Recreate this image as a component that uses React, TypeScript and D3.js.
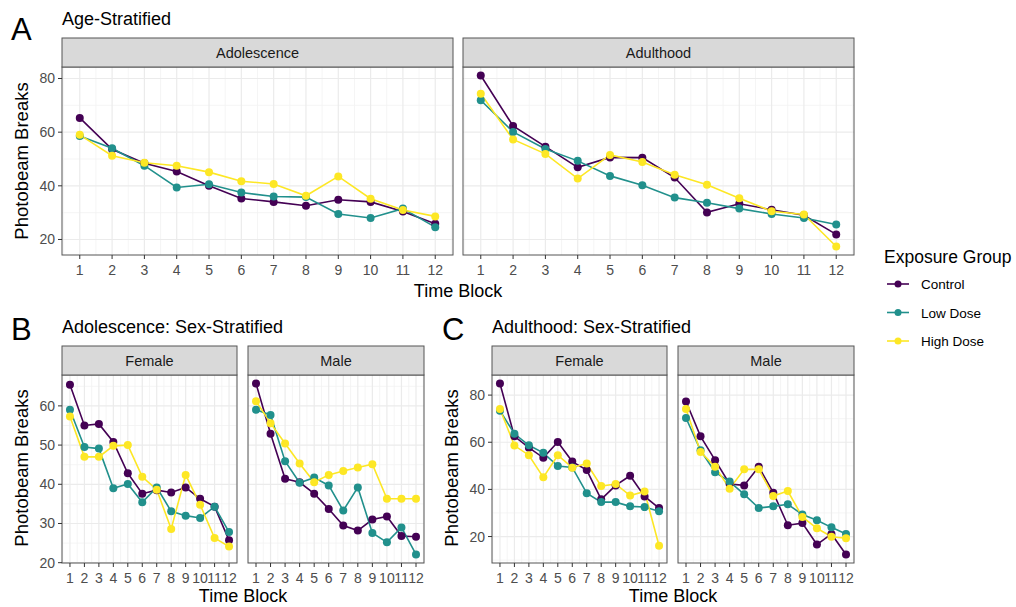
import React from 'react';
import * as d3 from 'd3';

const width = 1016;
const height = 607;
const font = '"Liberation Sans", Arial, sans-serif';

const groups = ['Control', 'Low Dose', 'High Dose'];
const colors = ['#440154', '#21908C', '#FDE725'];
const blocks = [1, 2, 3, 4, 5, 6, 7, 8, 9, 10, 11, 12];

// Panel A: age stratified
const adolControl = [65.3, 53.6, 48.4, 45.3, 40.0, 35.3, 34.0, 32.6, 34.8, 34.0, 30.4, 25.9];
const adolLow = [58.6, 54.0, 47.5, 39.4, 40.6, 37.5, 36.0, 35.8, 29.5, 28.0, 31.5, 24.6];
const adolHigh = [59.0, 51.2, 48.6, 47.5, 45.1, 41.7, 40.7, 36.3, 43.5, 35.2, 31.0, 28.6];
const adultControl = [81.1, 62.3, 54.6, 46.9, 50.6, 50.5, 43.1, 30.1, 33.3, 31.1, 29.0, 21.9];
const adultLow = [71.9, 60.1, 53.7, 49.3, 43.7, 40.2, 35.6, 33.7, 31.5, 29.5, 28.0, 25.6];
const adultHigh = [74.3, 57.3, 51.9, 42.7, 51.5, 48.9, 44.1, 40.4, 35.4, 30.5, 29.3, 17.4];

// Panel B: adolescence by sex
const adolFemControl = [65.4, 55.0, 55.4, 50.8, 42.8, 37.6, 38.5, 37.9, 39.2, 36.3, 34.3, 25.7];
const adolFemLow = [59.0, 49.5, 49.1, 39.0, 40.1, 35.4, 39.2, 33.1, 32.0, 31.4, 34.3, 27.8];
const adolFemHigh = [57.3, 47.0, 47.0, 49.8, 50.0, 41.9, 38.6, 28.6, 42.4, 34.8, 26.3, 24.1];
const adolMaleControl = [65.7, 52.9, 41.4, 40.5, 37.6, 33.7, 29.5, 28.2, 31.0, 31.8, 26.8, 26.6];
const adolMaleLow = [59.0, 57.7, 45.9, 40.4, 41.7, 39.7, 33.3, 39.2, 27.6, 25.2, 29.0, 22.1];
const adolMaleHigh = [61.2, 55.6, 50.4, 45.3, 40.5, 42.4, 43.4, 44.3, 45.1, 36.3, 36.3, 36.3];

// Panel C: adulthood by sex
const adultFemControl = [84.9, 62.5, 57.7, 53.4, 60.1, 51.8, 48.2, 35.8, 41.7, 45.8, 37.0, 32.1];
const adultFemLow = [73.4, 63.6, 58.7, 55.5, 49.9, 49.3, 38.4, 34.6, 34.6, 32.8, 32.5, 30.7];
const adultFemHigh = [74.1, 58.6, 54.5, 45.1, 54.5, 49.2, 51.0, 41.4, 42.3, 37.4, 39.1, 16.1];
const adultMaleControl = [77.3, 62.5, 52.4, 42.3, 41.7, 49.6, 38.6, 24.8, 25.7, 16.6, 21.1, 12.4];
const adultMaleLow = [70.3, 56.6, 47.3, 43.3, 37.9, 32.1, 32.8, 33.7, 29.3, 26.9, 23.9, 21.1];
const adultMaleHigh = [74.1, 55.9, 49.6, 40.3, 48.5, 48.5, 37.2, 39.3, 28.3, 23.5, 19.9, 19.3];

const ticksA = [20, 40, 60, 80];
const ticksB = [20, 30, 40, 50, 60];
const ticksC = [20, 40, 60, 80];

const expand = (all: number[]): [number, number] => {
  const [lo, hi] = d3.extent(all) as [number, number];
  const pad = (hi - lo) * 0.05;
  return [lo - pad, hi + pad];
};

const minorOf = (ticks: number[], dom: [number, number]) => {
  const step = ticks[1] - ticks[0];
  const out: number[] = [];
  for (let t = ticks[0] - step / 2; t <= ticks[ticks.length - 1] + step; t += step) {
    if (t >= dom[0] && t <= dom[1]) out.push(t);
  }
  return out;
};

type PanelProps = {
  x0: number; x1: number; top: number; bottom: number;
  label: string; series: number[][]; yDomain: [number, number];
  yTicks: number[]; showY: boolean;
};

const stripH = 29;

function Panel({ x0, x1, top, bottom, label, series, yDomain, yTicks, showY }: PanelProps) {
  const plotTop = top + stripH;
  const x = d3.scaleLinear().domain([0.45, 12.55]).range([x0, x1]);
  const y = d3.scaleLinear().domain(yDomain).range([bottom, plotTop]);
  const line = d3.line<number>().x((_, i) => x(blocks[i])).y(d => y(d));
  const xMinor = d3.range(0.5, 13, 1);
  const yMinor = minorOf(yTicks, yDomain);
  return (
    <g>
      <rect x={x0} y={plotTop} width={x1 - x0} height={bottom - plotTop} fill="#fff" />
      {xMinor.map(v => <line key={'xm' + v} x1={x(v)} x2={x(v)} y1={plotTop} y2={bottom} stroke="#F2F2F2" strokeWidth={0.8} />)}
      {yMinor.map(v => <line key={'ym' + v} x1={x0} x2={x1} y1={y(v)} y2={y(v)} stroke="#F2F2F2" strokeWidth={0.8} />)}
      {blocks.map(v => <line key={'xg' + v} x1={x(v)} x2={x(v)} y1={plotTop} y2={bottom} stroke="#EBEBEB" strokeWidth={1.2} />)}
      {yTicks.map(v => <line key={'yg' + v} x1={x0} x2={x1} y1={y(v)} y2={y(v)} stroke="#EBEBEB" strokeWidth={1.2} />)}
      {series.map((s, i) => <path key={'l' + i} d={line(s) || ''} fill="none" stroke={colors[i]} strokeWidth={1.6} />)}
      {series.map((s, i) => s.map((v, j) => <circle key={'p' + i + '-' + j} cx={x(blocks[j])} cy={y(v)} r={4} fill={colors[i]} />))}
      <rect x={x0} y={plotTop} width={x1 - x0} height={bottom - plotTop} fill="none" stroke="#555" strokeWidth={1} />
      <rect x={x0} y={top} width={x1 - x0} height={stripH} fill="#D9D9D9" stroke="#555" strokeWidth={1} />
      <text x={(x0 + x1) / 2} y={top + stripH / 2 + 5} textAnchor="middle" fontSize={14.5} fill="#1A1A1A">{label}</text>
      {blocks.map(v => (
        <g key={'xt' + v}>
          <line x1={x(v)} x2={x(v)} y1={bottom} y2={bottom + 4} stroke="#333" />
          <text x={x(v)} y={bottom + 19.5} textAnchor="middle" fontSize={14} fill="#4D4D4D">{v}</text>
        </g>
      ))}
      {showY && yTicks.map(v => (
        <g key={'yt' + v}>
          <line x1={x0 - 4} x2={x0} y1={y(v)} y2={y(v)} stroke="#333" />
          <text x={x0 - 7} y={y(v) + 5} textAnchor="end" fontSize={14} fill="#4D4D4D">{v}</text>
        </g>
      ))}
    </g>
  );
}

export default function App() {
  const domA = expand([...adolControl, ...adolLow, ...adolHigh, ...adultControl, ...adultLow, ...adultHigh]);
  const domB = expand([...adolFemControl, ...adolFemLow, ...adolFemHigh, ...adolMaleControl, ...adolMaleLow, ...adolMaleHigh]);
  const domC = expand([...adultFemControl, ...adultFemLow, ...adultFemHigh, ...adultMaleControl, ...adultMaleLow, ...adultMaleHigh]);

  return (
    <svg width={width} height={height} style={{ position: 'absolute', left: 0, top: 0, fontFamily: font }}>
      <rect width={width} height={height} fill="#fff" />

      {/* A */}
      <text x={11} y={40} fontSize={31} fill="#000">A</text>
      <text x={62} y={25} fontSize={18} fill="#000">Age-Stratified</text>
      <Panel x0={62} x1={453} top={38} bottom={255} label="Adolescence"
        series={[adolControl, adolLow, adolHigh]} yDomain={domA} yTicks={ticksA} showY />
      <Panel x0={463} x1={854} top={38} bottom={255} label="Adulthood"
        series={[adultControl, adultLow, adultHigh]} yDomain={domA} yTicks={ticksA} showY={false} />
      <text x={458} y={297} textAnchor="middle" fontSize={18} fill="#000">Time Block</text>
      <text transform={`translate(28,161) rotate(-90)`} textAnchor="middle" fontSize={18.5} fill="#000">Photobeam Breaks</text>

      {/* B */}
      <text x={11} y={340} fontSize={31} fill="#000">B</text>
      <text x={62} y={333} fontSize={18} fill="#000">Adolescence: Sex-Stratified</text>
      <Panel x0={62} x1={237} top={346} bottom={563} label="Female"
        series={[adolFemControl, adolFemLow, adolFemHigh]} yDomain={domB} yTicks={ticksB} showY />
      <Panel x0={248} x1={424} top={346} bottom={563} label="Male"
        series={[adolMaleControl, adolMaleLow, adolMaleHigh]} yDomain={domB} yTicks={ticksB} showY={false} />
      <text x={243} y={602} textAnchor="middle" fontSize={18} fill="#000">Time Block</text>
      <text transform={`translate(28,468) rotate(-90)`} textAnchor="middle" fontSize={18.5} fill="#000">Photobeam Breaks</text>

      {/* C */}
      <text x={442} y={340} fontSize={31} fill="#000">C</text>
      <text x={492} y={333} fontSize={18} fill="#000">Adulthood: Sex-Stratified</text>
      <Panel x0={492} x1={667} top={346} bottom={563} label="Female"
        series={[adultFemControl, adultFemLow, adultFemHigh]} yDomain={domC} yTicks={ticksC} showY />
      <Panel x0={678} x1={854} top={346} bottom={563} label="Male"
        series={[adultMaleControl, adultMaleLow, adultMaleHigh]} yDomain={domC} yTicks={ticksC} showY={false} />
      <text x={673} y={602} textAnchor="middle" fontSize={18} fill="#000">Time Block</text>
      <text transform={`translate(458,468) rotate(-90)`} textAnchor="middle" fontSize={18.5} fill="#000">Photobeam Breaks</text>

      {/* legend */}
      <text x={884} y={263} fontSize={17.5} fill="#000">Exposure Group</text>
      {groups.map((g, i) => {
        const cy = 284 + i * 28.5;
        return (
          <g key={g}>
            <line x1={887} x2={909} y1={cy} y2={cy} stroke={colors[i]} strokeWidth={1.6} />
            <circle cx={898} cy={cy} r={3.5} fill={colors[i]} />
            <text x={921} y={cy + 5} fontSize={13.5} fill="#000">{g}</text>
          </g>
        );
      })}
    </svg>
  );
}
